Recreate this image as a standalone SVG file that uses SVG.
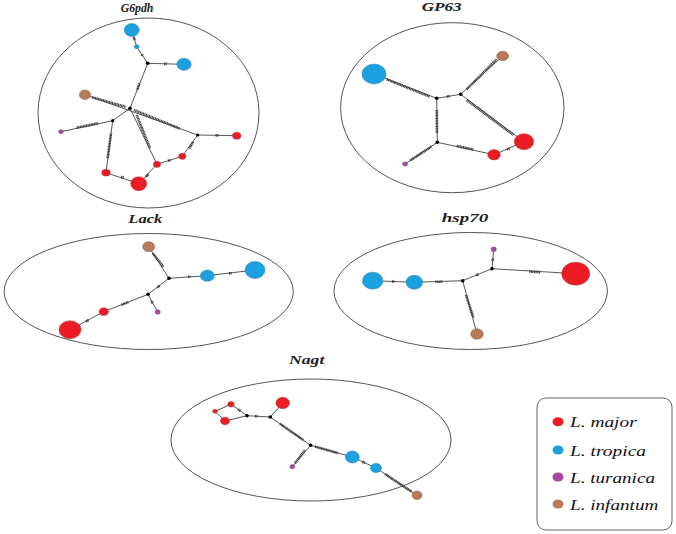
<svg xmlns="http://www.w3.org/2000/svg" width="676" height="534" viewBox="0 0 676 534">
<style>
.bg{fill:#fff}
.frame{fill:none;stroke:#555;stroke-width:1}
.e{stroke:#444;stroke-width:0.9;fill:none}
.h{stroke:#3a3a3a;stroke-width:2.6;stroke-dasharray:1.1 0.5;fill:none}
.j{fill:#000}
.maj{fill:#ed1c24;stroke:#a33;stroke-width:0.5}
.tro{fill:#1ba1e2;stroke:#2a7aa8;stroke-width:0.5}
.tur{fill:#a349a4;stroke:#7a3a7a;stroke-width:0.5}
.inf{fill:#b97a57;stroke:#7d5a40;stroke-width:0.5}
.title{font-family:"Liberation Serif",serif;font-weight:bold;font-style:italic;font-size:12px;fill:#222}
.leg{font-family:"Liberation Serif",serif;font-style:italic;font-size:15px;fill:#111}
.box{fill:#fff;stroke:#666;stroke-width:1}
</style>
<rect class="bg" width="676" height="534"/>

<!-- G6pdh -->
<g id="g6pdh">
<ellipse class="frame" cx="148.5" cy="113" rx="110.5" ry="95"/>
<text class="title" x="120.7" y="12" textLength="32.7" lengthAdjust="spacingAndGlyphs">G6pdh</text>
<g class="connectors">
<path class="e" d="M131.7,30 L136.7,46.7 L147.7,63.3 L184,64.3 M147.7,63.3 L130,108.3 M85,94.7 L197.7,135 M130,108.3 L112.7,120.7 L61,131.7 M112.7,120.7 L106,172.7 L138.7,183.7 L157,164.3 L182.3,156.3 L197.7,135 L236.7,135.7 M130,108.3 L157,164.3"/>
<path class="h" d="M133.7,37.5 L134.7,40 M141.8,54.5 L142.8,56 M164,63.8 L167,63.9 M139.3,83.3 L137.3,90 M92,97.2 L126,107 M134,110 L180,128.7 M76.7,127.7 L98.3,123.3 M111,133.3 L107.7,158.3 M136.7,115 L150,148.3 M121,176.8 L124,177.8 M146,177 L148.5,174.2 M168,160.8 L171,159.8 M189.3,148.3 L193.3,141.7 M215.5,135.3 L218.5,135.4"/>
</g>
<circle class="j" cx="147.7" cy="63.3" r="1.8"/>
<circle class="j" cx="130" cy="108.3" r="1.8"/>
<circle class="j" cx="112.7" cy="120.7" r="1.6"/>
<circle class="j" cx="197.7" cy="135" r="1.6"/>
<g id="g6pdh-n1"><ellipse class="tro" cx="131.7" cy="30" rx="7.5" ry="6.5"/></g>
<g id="g6pdh-n2"><ellipse class="tro" cx="136.7" cy="46.7" rx="2.4" ry="2"/></g>
<g id="g6pdh-n3"><ellipse class="tro" cx="184" cy="64.3" rx="7.2" ry="6"/></g>
<g id="g6pdh-n4"><ellipse class="inf" cx="85" cy="94.7" rx="5.7" ry="4.7"/></g>
<g id="g6pdh-n5"><ellipse class="tur" cx="61" cy="131.7" rx="2.4" ry="2"/></g>
<g id="g6pdh-n6"><ellipse class="maj" cx="236.7" cy="135.7" rx="4.2" ry="3.5"/></g>
<g id="g6pdh-n7"><ellipse class="maj" cx="182.3" cy="156.3" rx="3.6" ry="3.1"/></g>
<g id="g6pdh-n8"><ellipse class="maj" cx="157" cy="164.3" rx="3.6" ry="3.1"/></g>
<g id="g6pdh-n9"><ellipse class="maj" cx="106" cy="172.7" rx="4.2" ry="3.4"/></g>
<g id="g6pdh-n10"><ellipse class="maj" cx="138.7" cy="183.7" rx="8" ry="7"/></g>
</g>

<!-- GP63 -->
<g id="gp63">
<ellipse class="frame" cx="452.3" cy="107.7" rx="111.7" ry="85"/>
<text class="title" x="421.7" y="11" textLength="40" lengthAdjust="spacingAndGlyphs">GP63</text>
<g class="connectors">
<path class="e" d="M374,74 L436.7,98.3 L460.7,94.3 L502.7,56 M460.7,94.3 L524,141.7 M436.7,98.3 L437.3,142.3 L405,164 M437.3,142.3 L494,154.7 L524,141.7"/>
<path class="h" d="M386.7,79.3 L430,96.7 M447,96.6 L450,96.1 M466.7,89.3 L496.7,59.3 M466.7,100 L513.3,135 M436.8,110 L437,133.3 M410,160.6 L431.7,146.4 M456.7,145.9 L473.3,149.6 M507,149.5 L510,148.2"/>
</g>
<circle class="j" cx="436.7" cy="98.3" r="1.8"/>
<circle class="j" cx="460.7" cy="94.3" r="1.8"/>
<circle class="j" cx="437.3" cy="142.3" r="1.8"/>
<g id="gp63-n1"><ellipse class="tro" cx="374" cy="74" rx="12" ry="10"/></g>
<g id="gp63-n2"><ellipse class="inf" cx="502.7" cy="56" rx="6" ry="4.7"/></g>
<g id="gp63-n3"><ellipse class="tur" cx="405" cy="164" rx="2.5" ry="2.1"/></g>
<g id="gp63-n4"><ellipse class="maj" cx="494" cy="154.7" rx="6.3" ry="5.2"/></g>
<g id="gp63-n5"><ellipse class="maj" cx="524" cy="141.7" rx="9.7" ry="8"/></g>
</g>

<!-- Lack -->
<g id="lack">
<ellipse class="frame" cx="148.7" cy="291.5" rx="144.6" ry="58"/>
<text class="title" x="128.3" y="222.5" textLength="34" lengthAdjust="spacingAndGlyphs">Lack</text>
<g class="connectors">
<path class="e" d="M148.7,246.7 L169,278.3 L207.3,275.7 L255,270 M169,278.3 L148,294.3 L157.7,312 M148,294.3 L103.7,311.7 L70,329.7"/>
<path class="h" d="M152.7,253.3 L163.3,266.7 M188,276.8 L190.5,276.6 M229,273.4 L232,273 M159.5,285.8 L157.4,287.4 M151.3,301.2 L152.5,303.4 M121.5,304.8 L128.3,302.1 M86,321.5 L88.6,320.1"/>
</g>
<circle class="j" cx="169" cy="278.3" r="1.8"/>
<circle class="j" cx="148" cy="294.3" r="1.8"/>
<g id="lack-n1"><ellipse class="inf" cx="148.7" cy="246.7" rx="6" ry="5"/></g>
<g id="lack-n2"><ellipse class="tro" cx="207.3" cy="275.7" rx="7" ry="5.6"/></g>
<g id="lack-n3"><ellipse class="tro" cx="255" cy="270" rx="10" ry="8.5"/></g>
<g id="lack-n4"><ellipse class="tur" cx="157.7" cy="312" rx="2.6" ry="2.2"/></g>
<g id="lack-n5"><ellipse class="maj" cx="103.7" cy="311.7" rx="4.7" ry="3.9"/></g>
<g id="lack-n6"><ellipse class="maj" cx="70" cy="329.7" rx="11" ry="9"/></g>
</g>

<!-- hsp70 -->
<g id="hsp70">
<ellipse class="frame" cx="470.7" cy="291" rx="136.7" ry="58.5"/>
<text class="title" x="441.7" y="221.7" textLength="46.6" lengthAdjust="spacingAndGlyphs">hsp70</text>
<g class="connectors">
<path class="e" d="M493.7,249.3 L492,268.7 L462.7,280.7 L414.3,282.3 L372.7,280.7 M492,268.7 L575.7,273.7 M462.7,280.7 L477,334"/>
<path class="h" d="M492.9,258.5 L492.7,261 M478.5,274.3 L475.8,275.4 M529.3,271.5 L540.7,272.2 M435.5,281.8 L442.5,281.6 M392,281.5 L394.5,281.6 M466,295 L473.5,318"/>
</g>
<circle class="j" cx="492" cy="268.7" r="1.8"/>
<circle class="j" cx="462.7" cy="280.7" r="1.8"/>
<g id="hsp70-n1"><ellipse class="tur" cx="493.7" cy="249.3" rx="2.7" ry="2.3"/></g>
<g id="hsp70-n2"><ellipse class="tro" cx="372.7" cy="280.7" rx="10.3" ry="8.5"/></g>
<g id="hsp70-n3"><ellipse class="tro" cx="414.3" cy="282.3" rx="8.3" ry="7"/></g>
<g id="hsp70-n4"><ellipse class="maj" cx="575.7" cy="273.7" rx="14" ry="11.5"/></g>
<g id="hsp70-n5"><ellipse class="inf" cx="477" cy="334" rx="6.3" ry="5.2"/></g>
</g>

<!-- Nagt -->
<g id="nagt">
<ellipse class="frame" cx="311" cy="440" rx="140" ry="61"/>
<text class="title" x="289" y="364" textLength="35.3" lengthAdjust="spacingAndGlyphs">Nagt</text>
<g class="connectors">
<path class="e" d="M215,411.3 L231,404.3 L247,415.7 L225,421 Z M247,415.7 L270.3,417 L282.7,403 M270.3,417 L310.7,445.3 L292.3,466.7 M310.7,445.3 L352.3,457 L376,468 L417,495.3"/>
<path class="h" d="M238,409.3 L240.5,411 M255,416.2 L258,416.3 M280,423.8 L303.3,440 M295,463.3 L305,450 M315,446.6 L338.3,453.2 M362.5,461.8 L365.5,463.2 M385,474 L411.7,491.8"/>
</g>
<circle class="j" cx="247" cy="415.7" r="1.8"/>
<circle class="j" cx="270.3" cy="417" r="1.8"/>
<circle class="j" cx="310.7" cy="445.3" r="1.8"/>
<g id="nagt-n1"><ellipse class="maj" cx="282.7" cy="403" rx="6.8" ry="5.8"/></g>
<g id="nagt-n2"><ellipse class="maj" cx="231" cy="404.3" rx="3.2" ry="2.7"/></g>
<g id="nagt-n3"><ellipse class="maj" cx="215" cy="411.3" rx="2.3" ry="2"/></g>
<g id="nagt-n4"><ellipse class="maj" cx="225" cy="421" rx="4.5" ry="3.8"/></g>
<g id="nagt-n5"><ellipse class="tur" cx="292.3" cy="466.7" rx="2.5" ry="2.1"/></g>
<g id="nagt-n6"><ellipse class="tro" cx="352.3" cy="457" rx="7" ry="6"/></g>
<g id="nagt-n7"><ellipse class="tro" cx="376" cy="468" rx="5.5" ry="4.6"/></g>
<g id="nagt-n8"><ellipse class="inf" cx="417" cy="495.3" rx="5" ry="4.2"/></g>
</g>

<!-- Legend -->
<g id="legend">
<rect class="box" x="537" y="398" width="135" height="132" rx="9"/>
<ellipse class="maj" cx="558" cy="421.7" rx="5.5" ry="4.5" style="stroke:none"/>
<text class="leg" x="570" y="427" textLength="66.7" lengthAdjust="spacingAndGlyphs">L. major</text>
<ellipse class="tro" cx="558" cy="450" rx="5.5" ry="4.5" style="stroke:none"/>
<text class="leg" x="570" y="455.5" textLength="76" lengthAdjust="spacingAndGlyphs">L. tropica</text>
<ellipse class="tur" cx="558" cy="477" rx="5.5" ry="4.5" style="stroke:none"/>
<text class="leg" x="570" y="482.5" textLength="85" lengthAdjust="spacingAndGlyphs">L. turanica</text>
<ellipse class="inf" cx="558" cy="504" rx="5.5" ry="4.5" style="stroke:none"/>
<text class="leg" x="570" y="509.5" textLength="88.3" lengthAdjust="spacingAndGlyphs">L. infantum</text>
</g>
</svg>
